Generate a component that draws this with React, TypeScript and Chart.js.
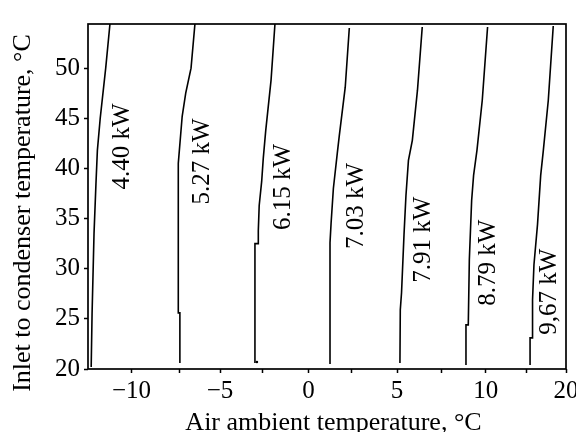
import { useEffect, useRef } from 'react';
import { Chart, registerables } from 'chart.js';

Chart.register(...registerables);

const FONT = '"Liberation Serif", "Times New Roman", Times, serif';

// Axis ranges (air ambient temperature, inlet to condenser temperature)
const X_MIN = -12.46;
const X_MAX = 14.54;
const Y_MIN = 20;
const Y_MAX = 54.4;

// Tick positions and their printed labels
const xTickValues = [-10, -7.3, -5, -2.6, 0, 2.4, 5, 7.5, 10, 12.3, X_MAX];
const xTickLabels = ['\u221210', '', '\u22125', '', '0', '', '5', '', '10', '', '20'];
const yTickValues = [20, 25, 30, 35, 40, 45, 50];

const xTitle = 'Air ambient temperature, \u00B0C';
const yTitle = 'Inlet to condenser temperature, \u00B0C';

// Constant-capacity contours, listed from the bottom of the plot to the top
const ambient440 = [-12.28, -12.23, -12.12, -12.01, -11.93, -11.77, -11.46, -11.22];
const inlet440 = [20.2, 25.5, 33.5, 38.5, 41.8, 45.0, 50.0, 54.4];

const ambient527 = [-7.27, -7.27, -7.36, -7.36, -7.14, -6.94, -6.64, -6.42];
const inlet527 = [20.6, 25.6, 25.6, 40.5, 45.2, 47.5, 50.0, 54.4];

const ambient615 = [-3.03, -3.03, -2.84, -2.84, -2.79, -2.65, -2.56, -2.42, -2.12, -1.9];
const inlet615 = [20.6, 32.5, 32.5, 33.8, 36.3, 38.7, 41.0, 43.8, 48.8, 54.4];

const ambient703 = [1.21, 1.21, 1.27, 1.4, 1.62, 1.73, 2.07, 2.3];
const inlet703 = [20.5, 32.6, 34.5, 38.0, 41.5, 43.2, 48.1, 54.0];

const ambient791 = [5.16, 5.18, 5.25, 5.39, 5.5, 5.64, 5.86, 6.15, 6.42];
const inlet791 = [20.6, 25.9, 27.6, 33.4, 37.3, 40.8, 42.8, 47.8, 54.1];

const ambient879 = [8.89, 8.89, 9.02, 9.08, 9.21, 9.32, 9.51, 9.81, 10.11];
const inlet879 = [20.4, 24.4, 24.4, 30.9, 36.8, 39.3, 41.8, 46.8, 54.1];

const ambient967 = [12.51, 12.51, 12.64, 12.65, 12.73, 12.93, 13.11, 13.26, 13.54, 13.82];
const inlet967 = [20.4, 23.1, 23.1, 26.9, 30.4, 34.4, 39.3, 41.8, 46.8, 54.2];

// Stray point near the foot of the 6.15 kW contour
const strayAmbient = [-2.92];
const strayInlet = [20.7];

// Contour labels: text, baseline position (x) and centre (y), in data units
const labelTexts = ['4.40 kW', '5.27 kW', '6.15 kW', '7.03 kW', '7.91 kW', '8.79 kW', '9,67 kW'];
const labelAmbient = [-10.15, -5.63, -1.05, 3.07, 6.86, 10.53, 13.98];
const labelInlet = [42.2, 40.7, 38.15, 36.25, 32.9, 30.6, 27.7];

const contours: [number[], number[]][] = [
  [ambient440, inlet440],
  [ambient527, inlet527],
  [ambient615, inlet615],
  [ambient703, inlet703],
  [ambient791, inlet791],
  [ambient879, inlet879],
  [ambient967, inlet967],
];

const toPoints = (xs: number[], ys: number[]) => xs.map((x, i) => ({ x, y: ys[i] }));

// Closed frame around the plotting area
const framePlugin = {
  id: 'frame',
  afterDatasetsDraw(chart: any) {
    const { ctx, chartArea: a } = chart;
    ctx.save();
    ctx.strokeStyle = '#000';
    ctx.lineWidth = 1.7;
    ctx.strokeRect(a.left, a.top, a.right - a.left, a.bottom - a.top);
    ctx.restore();
  },
};

// Axis titles, placed a little off the plot-area centre
const axisTitlePlugin = {
  id: 'axisTitles',
  afterDraw(chart: any) {
    const { ctx, chartArea: a } = chart;
    ctx.save();
    ctx.font = `26px ${FONT}`;
    ctx.fillStyle = '#000';
    ctx.textAlign = 'center';
    ctx.textBaseline = 'middle';
    ctx.fillText(xTitle, (a.left + a.right) / 2 + 6.5, 423);
    ctx.translate(23, (a.top + a.bottom) / 2 + 16.5);
    ctx.rotate(-Math.PI / 2);
    ctx.fillText(yTitle, 0, 0);
    ctx.restore();
  },
};

// Vertical capacity labels beside each contour
const contourLabelPlugin = {
  id: 'contourLabels',
  afterDatasetsDraw(chart: any) {
    const { ctx } = chart;
    const xs = chart.scales.x;
    const ys = chart.scales.y;
    ctx.save();
    ctx.font = `25px ${FONT}`;
    ctx.textAlign = 'center';
    ctx.textBaseline = 'alphabetic';
    labelTexts.forEach((text, i) => {
      const px = xs.getPixelForValue(labelAmbient[i]);
      const py = ys.getPixelForValue(labelInlet[i]);
      const w = ctx.measureText(text).width;
      ctx.save();
      ctx.translate(px, py);
      ctx.rotate(-Math.PI / 2);
      ctx.fillStyle = '#fff';
      ctx.fillRect(-w / 2 - 2, -19, w + 4, 22);
      ctx.fillStyle = '#000';
      ctx.fillText(text, 0, 0);
      ctx.restore();
    });
    ctx.restore();
  },
};

export default function App() {
  const canvasRef = useRef<HTMLCanvasElement>(null);

  useEffect(() => {
    document.body.style.margin = '0';
    const canvas = canvasRef.current;
    if (!canvas) return;

    const datasets: any[] = contours.map(([xs, ys], i) => ({
      label: labelTexts[i],
      data: toPoints(xs, ys),
      borderColor: '#000',
      borderWidth: 1.6,
      pointRadius: 0,
      tension: 0,
      fill: false,
    }));
    datasets.push({
      label: 'mark',
      data: toPoints(strayAmbient, strayInlet),
      showLine: false,
      pointRadius: 1.3,
      pointBackgroundColor: '#000',
      pointBorderWidth: 0,
    });

    const tickFont = { family: FONT, size: 25, lineHeight: 1.2 };

    const chart = new Chart(canvas, {
      type: 'line',
      data: { datasets },
      options: {
        animation: false,
        responsive: false,
        devicePixelRatio: 1,
        events: [],
        layout: { padding: { top: 24, right: 10, bottom: 0, left: 0 } },
        plugins: {
          legend: { display: false },
          tooltip: { enabled: false },
        },
        scales: {
          x: {
            type: 'linear',
            min: X_MIN,
            max: X_MAX,
            afterBuildTicks: (s: any) => {
              s.ticks = xTickValues.map((v) => ({ value: v }));
            },
            afterFit: (s: any) => {
              s.height = 63;
              s.paddingLeft = 0;
              s.paddingRight = 0;
            },
            ticks: {
              autoSkip: false,
              maxRotation: 0,
              minRotation: 0,
              padding: 3,
              color: '#000',
              font: tickFont,
              callback: (_v: any, i: number) => xTickLabels[i],
            },
            grid: {
              drawOnChartArea: false,
              drawTicks: true,
              tickLength: 4,
              tickWidth: 1.5,
              tickColor: '#000',
            },
            border: { display: false },
          },
          y: {
            type: 'linear',
            min: Y_MIN,
            max: Y_MAX,
            afterBuildTicks: (s: any) => {
              s.ticks = yTickValues.map((v) => ({ value: v }));
            },
            afterFit: (s: any) => {
              s.width = 88;
              s.paddingTop = 0;
              s.paddingBottom = 0;
            },
            ticks: {
              autoSkip: false,
              padding: 4,
              color: '#000',
              font: tickFont,
              callback: (v: any) => String(v),
            },
            grid: {
              drawOnChartArea: false,
              drawTicks: true,
              tickLength: 4,
              tickWidth: 1.5,
              tickColor: '#000',
            },
            border: { display: false },
          },
        },
      } as any,
      plugins: [framePlugin, contourLabelPlugin, axisTitlePlugin],
    });

    return () => chart.destroy();
  }, []);

  return (
    <div style={{ position: 'fixed', left: 0, top: 0, width: 576, height: 432, background: '#fff' }}>
      <canvas ref={canvasRef} width={576} height={432} style={{ display: 'block' }} />
    </div>
  );
}
